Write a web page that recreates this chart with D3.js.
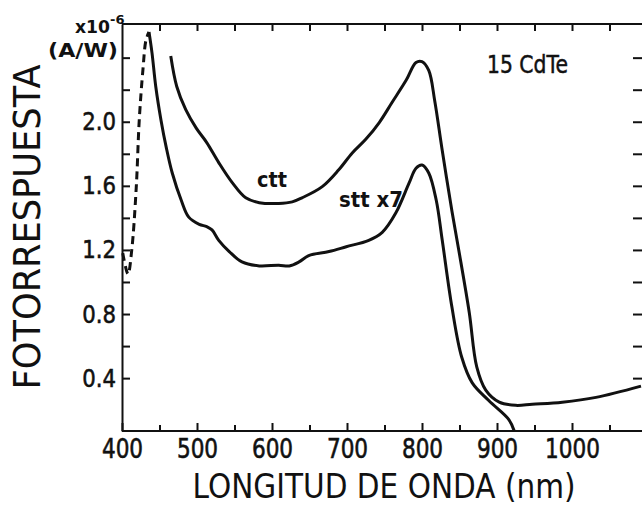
<!DOCTYPE html>
<html>
<head>
<meta charset="utf-8">
<title>Fotorrespuesta CdTe</title>
<style>
    body { margin: 0; background: #fff; }
    text { font-family: "DejaVu Sans", sans-serif; fill: #111; }
</style>
</head>
<body>
<main></main>
<script src="https://cdn.jsdelivr.net/npm/d3@7"></script>
<script>
    // datos ==========================================
    // curva ctt (superior)
    var cttNm  = [465, 473, 485, 499, 513, 529, 547, 565, 583, 609, 627, 640, 667, 689, 707, 725, 743, 760, 779, 792, 800, 809, 817, 827, 840, 849, 863, 873, 885, 903, 925, 947, 987, 1032, 1092];
    var cttVal = [2.41, 2.22, 2.075, 1.96, 1.87, 1.745, 1.62, 1.525, 1.495, 1.49, 1.50, 1.525, 1.595, 1.70, 1.805, 1.89, 1.995, 2.12, 2.26, 2.37, 2.375, 2.32, 2.13, 1.82, 1.44, 1.20, 0.81, 0.47, 0.325, 0.25, 0.23, 0.237, 0.25, 0.28, 0.35];

    // curva stt x7 (inferior), parte continua
    var sttNm  = [436, 440, 445, 452, 459, 467, 479, 489, 503, 513, 520, 529, 543, 560, 583, 609, 623, 636, 649, 676, 699, 729, 747, 765, 783, 792, 800, 809, 819, 827, 840, 853, 867, 889, 916, 923];
    var sttVal = [2.56, 2.43, 2.22, 2.01, 1.84, 1.68, 1.51, 1.405, 1.36, 1.345, 1.325, 1.26, 1.19, 1.125, 1.10, 1.105, 1.10, 1.125, 1.165, 1.19, 1.22, 1.26, 1.31, 1.43, 1.62, 1.71, 1.73, 1.68, 1.51, 1.26, 0.84, 0.53, 0.37, 0.26, 0.14, 0.07];

    // curva stt x7, parte discontinua
    var dashNm  = [401, 408, 413, 419, 423, 428, 432, 436];
    var dashVal = [1.18, 1.05, 1.20, 1.59, 2.01, 2.33, 2.51, 2.56];

    // ejes
    var xTicks = [400, 450, 500, 550, 600, 650, 700, 750, 800, 850, 900, 950, 1000, 1050];
    var xLabels = [400, 500, 600, 700, 800, 900, 1000];
    var yTicks = [0.4, 0.6, 0.8, 1.0, 1.2, 1.4, 1.6, 1.8, 2.0, 2.2, 2.4];
    var yLabels = [0.4, 0.8, 1.2, 1.6, 2.0];

    // parametros ======================================
    var width = 642;
    var height = 508;
    var plot = {left: 122, right: 641, top: 24, bottom: 431};
    var rightAxisX = 645; // la linea del eje derecho queda fuera del recorte

    var svg = d3.select("main")
        .append("svg")
        .attr("width", width)
        .attr("height", height);

    var x = d3.scaleLinear().domain([400, 1092]).range([plot.left, plot.right]);
    var y = d3.scaleLinear().domain([0.07, 2.61]).range([plot.bottom, plot.top]);

    // comprime el texto horizontalmente (letras estrechas del original)
    function squeeze(sel, k) {
        sel.each(function () {
            var w = this.getComputedTextLength();
            d3.select(this).attr("textLength", w * k).attr("lengthAdjust", "spacingAndGlyphs");
        });
    }

    // ejes ============================================
    function styleAxis(g) {
        g.selectAll("path, line").attr("stroke", "#111").attr("stroke-width", 2);
    }

    var gBottom = svg.append("g")
        .attr("transform", "translate(0," + plot.bottom + ")")
        .call(d3.axisBottom(x).tickValues(xTicks).tickSize(-8).tickSizeOuter(0).tickPadding(9)
            .tickFormat(function (d) { return xLabels.indexOf(d) >= 0 ? d : ""; }))
        .call(styleAxis);
    gBottom.select(".domain").attr("d", "M" + plot.left + ",0H" + width);
    gBottom.selectAll(".tick line").attr("y2", function (d) { return d % 100 === 0 ? -8 : -6; });
    gBottom.selectAll("text").attr("font-size", 26).attr("fill", "#111")
        .attr("stroke", "#111").attr("stroke-width", 0.6).call(squeeze, 0.83);

    var gTop = svg.append("g")
        .attr("transform", "translate(0," + plot.top + ")")
        .call(d3.axisTop(x).tickValues(xTicks.slice(1)).tickSize(-7).tickSizeOuter(0).tickFormat(""))
        .call(styleAxis);
    gTop.select(".domain").attr("d", "M" + plot.left + ",0H" + width);

    var gLeft = svg.append("g")
        .attr("transform", "translate(" + plot.left + ",0)")
        .call(d3.axisLeft(y).tickValues(yTicks).tickSize(-8).tickSizeOuter(0).tickPadding(6)
            .tickFormat(function (d) { return yLabels.indexOf(d) >= 0 ? d3.format(".1f")(d) : ""; }))
        .call(styleAxis);
    gLeft.selectAll("text").attr("font-size", 25).attr("fill", "#111")
        .attr("stroke", "#111").attr("stroke-width", 0.6).call(squeeze, 0.85);

    var gRight = svg.append("g")
        .attr("transform", "translate(" + rightAxisX + ",0)")
        .call(d3.axisRight(y).tickValues(yTicks).tickSize(-12).tickSizeOuter(0).tickFormat(""))
        .call(styleAxis);

    svg.selectAll(".domain").attr("fill", "none");

    // curvas ==========================================
    var line = d3.line()
        .x(function (d) { return x(d[0]); })
        .y(function (d) { return y(d[1]); })
        .curve(d3.curveCatmullRom.alpha(0.5));

    var curves = [
        {nm: cttNm, val: cttVal, dash: null},
        {nm: sttNm, val: sttVal, dash: null},
        {nm: dashNm, val: dashVal, dash: "8,5"}
    ];

    svg.append("g").selectAll("path")
        .data(curves)
        .enter().append("path")
        .attr("d", function (c) { return line(d3.zip(c.nm, c.val)); })
        .attr("fill", "none")
        .attr("stroke", "#111")
        .attr("stroke-width", 3)
        .attr("stroke-linejoin", "round")
        .attr("stroke-dasharray", function (c) { return c.dash; });

    // textos ==========================================
    svg.append("text")
        .attr("x", 384).attr("y", 498)
        .attr("text-anchor", "middle")
        .attr("font-size", 34)
        .attr("textLength", 383).attr("lengthAdjust", "spacingAndGlyphs")
        .text("LONGITUD DE ONDA (nm)");

    svg.append("text")
        .attr("transform", "translate(40,227) rotate(-90)")
        .attr("text-anchor", "middle")
        .attr("font-size", 37)
        .attr("textLength", 325).attr("lengthAdjust", "spacingAndGlyphs")
        .text("FOTORRESPUESTA");

    svg.append("text")
        .attr("x", 75).attr("y", 33)
        .attr("font-size", 18).attr("font-weight", "bold")
        .attr("textLength", 35).attr("lengthAdjust", "spacingAndGlyphs")
        .text("x10");
    svg.append("text")
        .attr("x", 110).attr("y", 24)
        .attr("font-size", 13).attr("font-weight", "bold")
        .text("-6");
    svg.append("text")
        .attr("x", 48).attr("y", 57)
        .attr("font-size", 20).attr("font-weight", "bold")
        .attr("textLength", 70).attr("lengthAdjust", "spacingAndGlyphs")
        .text("(A/W)");

    svg.append("text")
        .attr("x", 487).attr("y", 73)
        .attr("font-size", 25)
        .attr("stroke", "#111").attr("stroke-width", 0.5)
        .attr("textLength", 81).attr("lengthAdjust", "spacingAndGlyphs")
        .text("15 CdTe");

    svg.append("text")
        .attr("x", 257).attr("y", 187)
        .attr("font-size", 21).attr("font-weight", "bold")
        .attr("textLength", 30).attr("lengthAdjust", "spacingAndGlyphs")
        .text("ctt");

    svg.append("text")
        .attr("x", 339).attr("y", 207)
        .attr("font-size", 21).attr("font-weight", "bold")
        .attr("textLength", 64).attr("lengthAdjust", "spacingAndGlyphs")
        .text("stt x7");
</script>
</body>
</html>
